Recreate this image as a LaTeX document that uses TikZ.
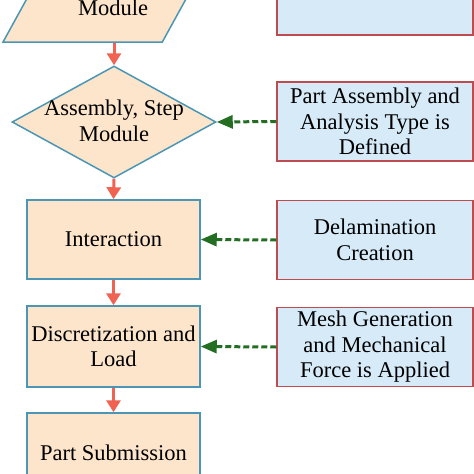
\documentclass[tikz,border=0pt]{standalone}
\usepackage{fontspec}
\setmainfont{Liberation Serif}
\usetikzlibrary{shapes.geometric,arrows.meta}

\definecolor{boxfill}{RGB}{252,229,203}
\definecolor{boxline}{RGB}{75,150,180}
\definecolor{notefill}{RGB}{214,234,248}
\definecolor{noteline}{RGB}{190,75,80}
\definecolor{flowred}{RGB}{240,98,82}
\definecolor{linkgreen}{RGB}{35,110,35}

\begin{document}
\begin{tikzpicture}[
        x=1pt, y=-1pt,
        font=\fontsize{22.5}{25.5}\selectfont,
        proc/.style={rectangle, draw=boxline, fill=boxfill, line width=1.5pt,
            minimum width=173pt, minimum height=80pt, align=center, inner sep=1pt},
        dec/.style={diamond, draw=boxline, fill=boxfill, line width=1.5pt,
            minimum width=204pt, minimum height=112pt, inner sep=0pt},
        io/.style={trapezium, trapezium left angle=65, trapezium right angle=115,
            trapezium stretches=true, draw=boxline, fill=boxfill, line width=1.5pt,
            minimum width=210pt, minimum height=92pt},
        note/.style={rectangle, draw=noteline, fill=notefill, line width=1.5pt,
            minimum width=196pt, minimum height=79pt, align=center, inner sep=1pt},
        flow/.style={-{Triangle[length=12pt,width=14pt]}, line width=3pt, draw=flowred},
        link/.style={-{Triangle[length=16pt,width=13pt]}, line width=3pt,
            draw=linkgreen, dash pattern=on 6pt off 3pt}
    ]
    \useasboundingbox (0,0) rectangle (474,474);
    \clip (0,0) rectangle (474,474);

    % main flow on the left
    \node[io] (para) at (108,-4) {};
    \node[anchor=base, inner sep=0pt] (paratxt) at (113,15.5) {Module};
    \node[dec] (asm) at (114,122) {};
    \node[align=center] (asmtxt) at (114,121) {Assembly, Step\\Module};
    \node[proc, minimum height=79pt] (inter) at (113.5,239.5) {Interaction};
    \node[proc, minimum height=81pt] (disc) at (113.5,346.5) {Discretization and\\Load};
    \node[proc] (sub) at (113.5,453) {Part Submission};

    \draw[flow] (para.south -| asm.north) -- (asm.north);
    \draw[flow] (asm.south) -- (inter.north);
    \draw[flow] (inter.south) -- (disc.north);
    \draw[flow] (disc.south) -- (sub.north);

    % notes on the right
    \node[note, minimum height=90pt] (note0) at (375,-10) {};
    \draw[link] (note0.west) -- (note0.west -| para.east);
    \foreach \n/\y/\txt/\tgt in {
        1/121.5/{Part Assembly and\\Analysis Type is\\Defined}/asm,
        2/240/{Delamination\\Creation}/inter,
        3/347/{Mesh Generation\\and Mechanical\\Force is Applied}/disc} {
        \node[note] (note\n) at (375,\y) {\txt};
        \draw[link] (note\n.west) -- (\tgt.east);
    }
\end{tikzpicture}
\end{document}
